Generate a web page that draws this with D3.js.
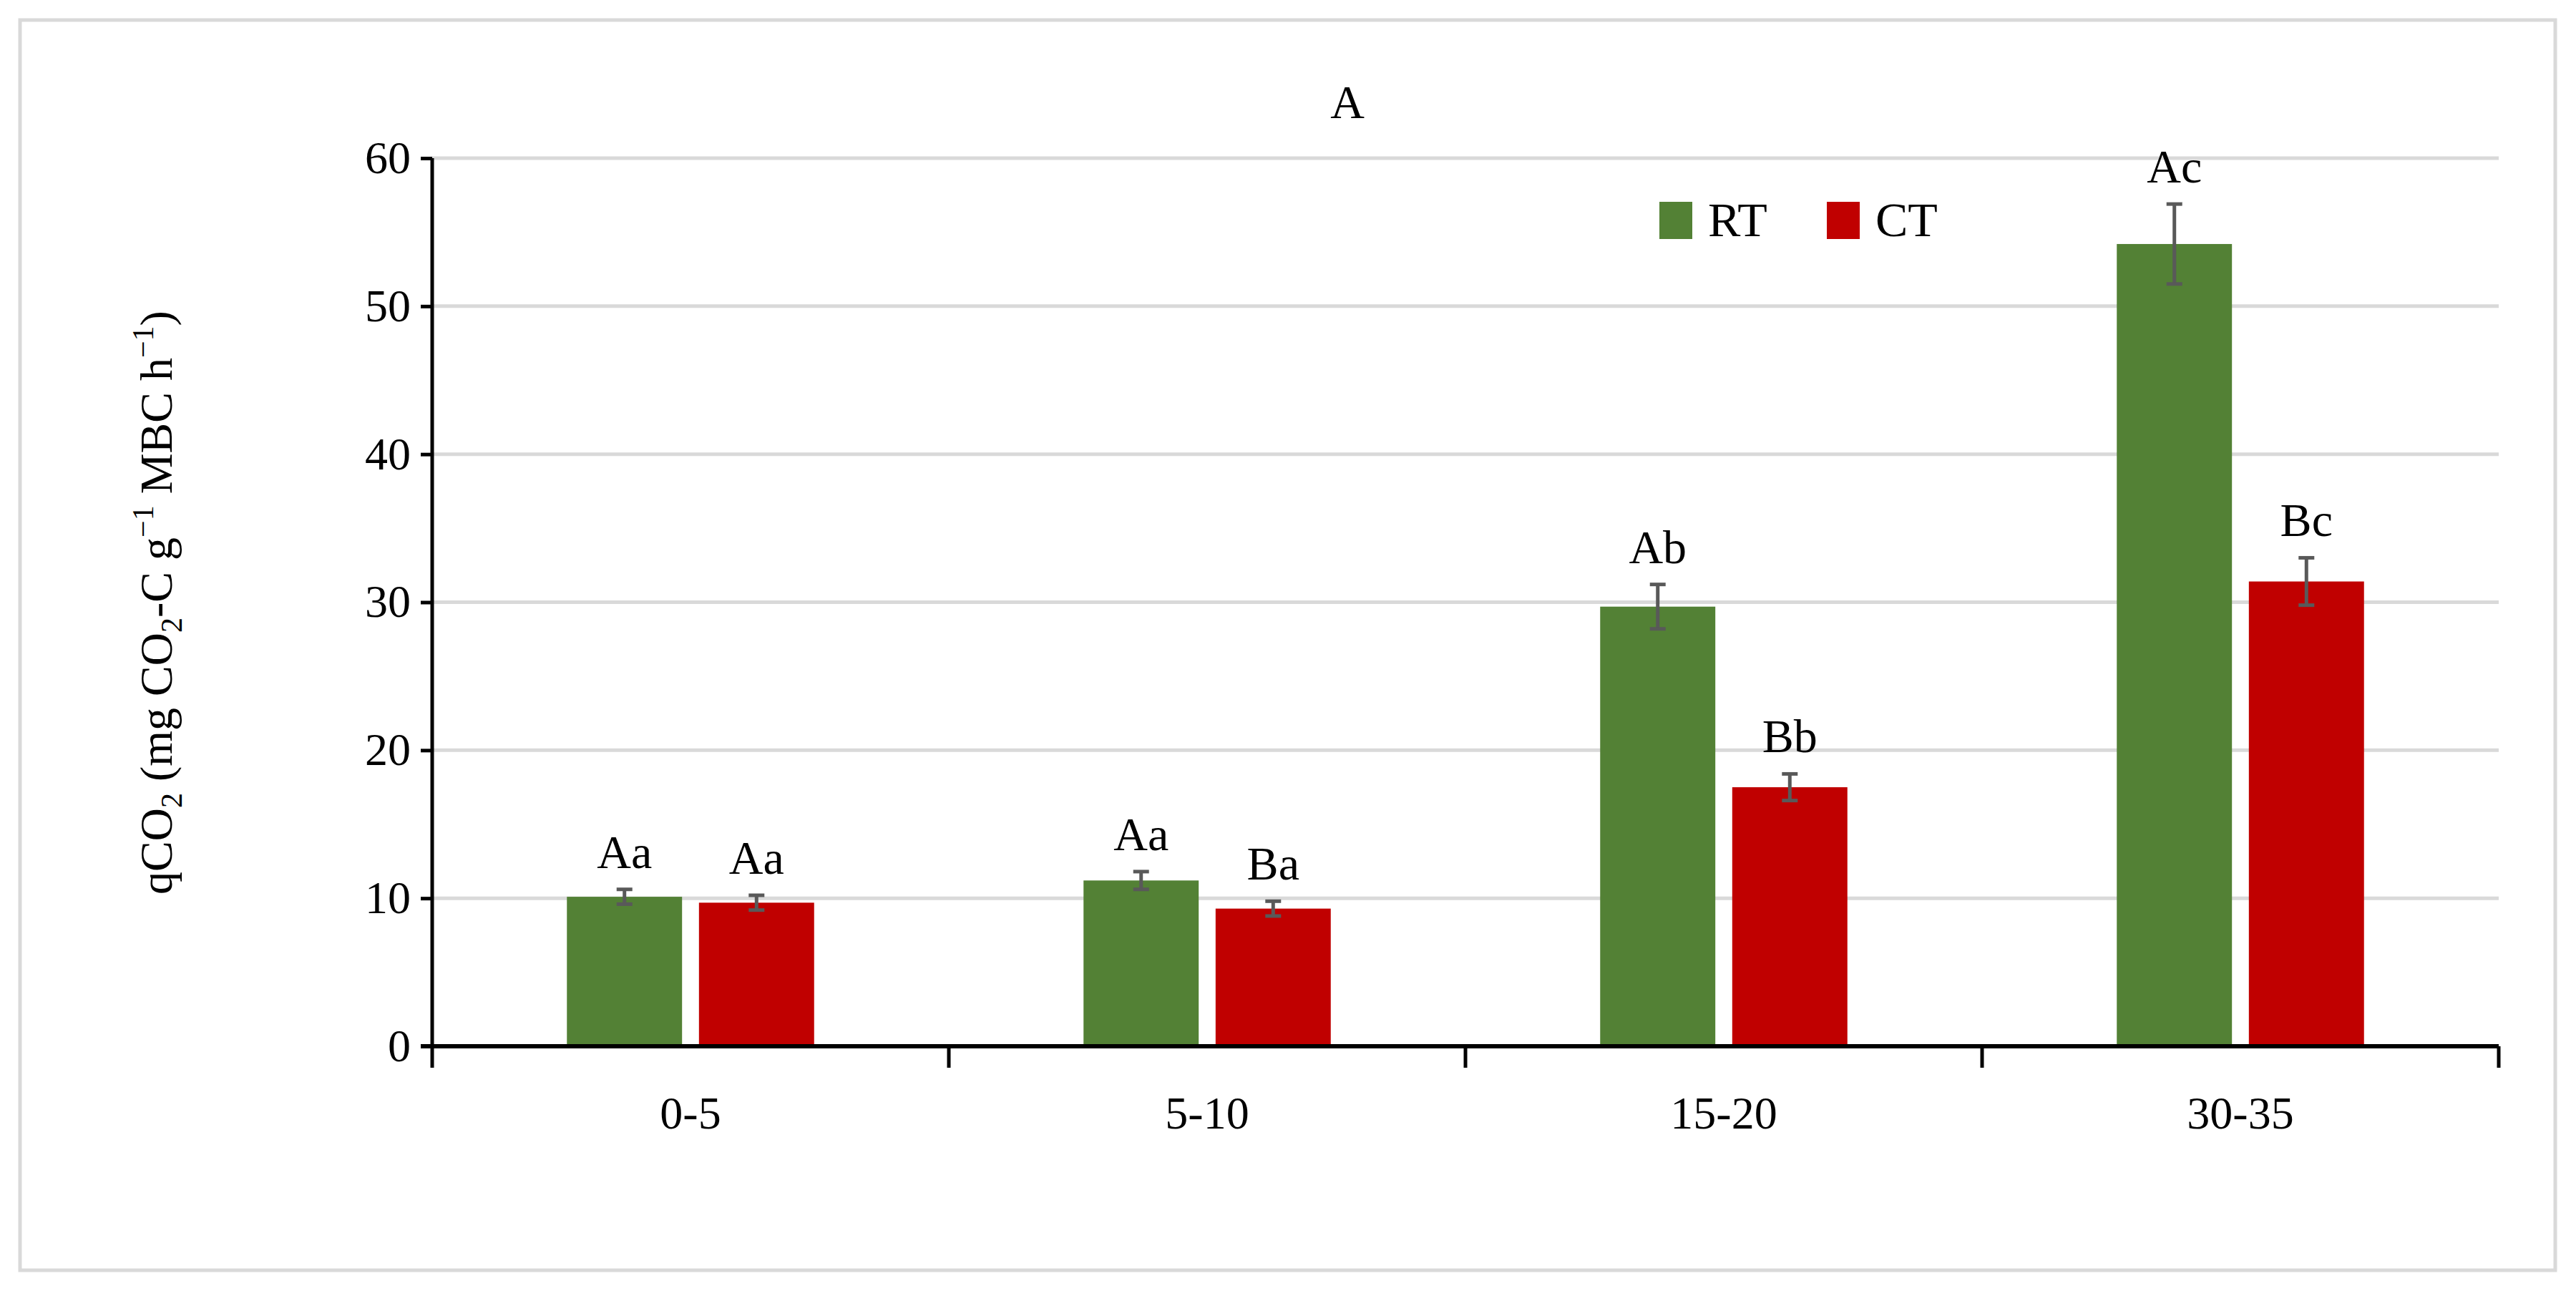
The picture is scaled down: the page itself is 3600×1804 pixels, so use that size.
<!DOCTYPE html>
<html><head><meta charset="utf-8">
<script src="https://cdn.jsdelivr.net/npm/d3@7"></script>
<style>body{margin:0;background:#fff}svg{display:block}</style>
</head><body>
<svg id="c" width="3600" height="1804"></svg>
<script>
const categories = ["0-5","5-10","15-20","30-35"];
const series = ["RT","CT"];
const rtValues = [10.1, 11.2, 29.7, 54.2];
const ctValues = [9.7, 9.3, 17.5, 31.4];
const rtErrors = [0.5, 0.6, 1.5, 2.7];
const ctErrors = [0.5, 0.5, 0.9, 1.6];
const rtLabels = ["Aa","Aa","Ab","Ac"];
const ctLabels = ["Aa","Ba","Bb","Bc"];
const yTicks = [0,10,20,30,40,50,60];
const colors = {RT:"#538135", CT:"#C00000"};
const font = "Liberation Serif, serif";

const svg = d3.select("#c");
svg.append("rect").attr("x",28).attr("y",28).attr("width",3543).attr("height",1747)
  .attr("fill","#fff").attr("stroke","#d9d9d9").attr("stroke-width",5);

const L=604, R=3492, T=221, B=1462;
const x = d3.scaleBand().domain(categories).range([L,R]);
const y = d3.scaleLinear().domain([0,60]).range([B,T]);
const xs = d3.scaleBand().domain(series).range([0,x.bandwidth()]).paddingInner(0.128).paddingOuter(1.02);

// grid
svg.append("g").selectAll("line").data(yTicks.filter(d=>d>0)).join("line")
  .attr("x1",L).attr("x2",R).attr("y1",d=>y(d)).attr("y2",d=>y(d))
  .attr("stroke","#d9d9d9").attr("stroke-width",5);

const data = [];
categories.forEach((c,i)=>{
  data.push({c,s:"RT",v:rtValues[i],e:rtErrors[i],l:rtLabels[i]});
  data.push({c,s:"CT",v:ctValues[i],e:ctErrors[i],l:ctLabels[i]});
});
const g = svg.append("g");
g.selectAll("rect").data(data).join("rect")
  .attr("x",d=>x(d.c)+xs(d.s)).attr("width",xs.bandwidth())
  .attr("y",d=>y(d.v)).attr("height",d=>B-y(d.v)).attr("fill",d=>colors[d.s]);
const cx = d=>x(d.c)+xs(d.s)+xs.bandwidth()/2;
const eb = g.append("g").attr("stroke","#595959").attr("stroke-width",5);
data.forEach(d=>{
  eb.append("line").attr("x1",cx(d)).attr("x2",cx(d)).attr("y1",y(d.v-d.e)).attr("y2",y(d.v+d.e));
  [d.v-d.e,d.v+d.e].forEach(v=>eb.append("line").attr("x1",cx(d)-11).attr("x2",cx(d)+11).attr("y1",y(v)).attr("y2",y(v)));
});
g.selectAll("text").data(data).join("text")
  .attr("x",cx).attr("y",d=>y(d.v+d.e)-30).attr("text-anchor","middle")
  .attr("font-family",font).attr("font-size",66).text(d=>d.l);

// axes
const ya = svg.append("g").attr("transform",`translate(${L},0)`)
  .call(d3.axisLeft(y).tickValues(yTicks).tickSize(16).tickPadding(14));
ya.select(".domain").attr("stroke","#000").attr("stroke-width",5).attr("d",`M0,${T}V${B}`);
ya.selectAll(".tick line").attr("stroke","#000").attr("stroke-width",5);
ya.selectAll("text").attr("font-family",font).attr("font-size",64).attr("fill","#000");

const xa = svg.append("g").attr("transform",`translate(0,${B})`)
  .call(d3.axisBottom(x).tickSize(0).tickPadding(70));
xa.select(".domain").attr("stroke","#000").attr("stroke-width",6).attr("d",`M${L-16},0H${R}`);
xa.selectAll("text").attr("font-family",font).attr("font-size",64).attr("fill","#000");
xa.append("g").selectAll("line").data(d3.range(categories.length+1)).join("line")
  .attr("x1",i=>L+i*x.step()).attr("x2",i=>L+i*x.step()).attr("y1",0).attr("y2",30)
  .attr("stroke","#000").attr("stroke-width",5);

// title
svg.append("text").attr("x",1883).attr("y",165).attr("text-anchor","middle")
  .attr("font-family",font).attr("font-size",66).text("A");

// legend
const lg = svg.append("g");
[["RT",2319],["CT",2553]].forEach(([s,lx])=>{
  lg.append("rect").attr("x",lx).attr("y",282).attr("width",46).attr("height",52).attr("fill",colors[s]);
  lg.append("text").attr("x",lx+68).attr("y",330).attr("font-family",font).attr("font-size",68).text(s);
});

// y label
const yl = svg.append("text").attr("transform","translate(240,842) rotate(-90)")
  .attr("text-anchor","middle").attr("font-family",font).attr("font-size",64);
yl.append("tspan").text("qCO");
yl.append("tspan").attr("font-size",42).attr("dy",14).text("2");
yl.append("tspan").attr("dy",-14).text(" (mg CO");
yl.append("tspan").attr("font-size",42).attr("dy",14).text("2");
yl.append("tspan").attr("dy",-14).text("-C g");
yl.append("tspan").attr("font-size",42).attr("dy",-26).text("−1");
yl.append("tspan").attr("dy",26).text(" MBC h");
yl.append("tspan").attr("font-size",42).attr("dy",-26).text("−1");
yl.append("tspan").attr("dy",26).text(")");
</script>
</body></html>
